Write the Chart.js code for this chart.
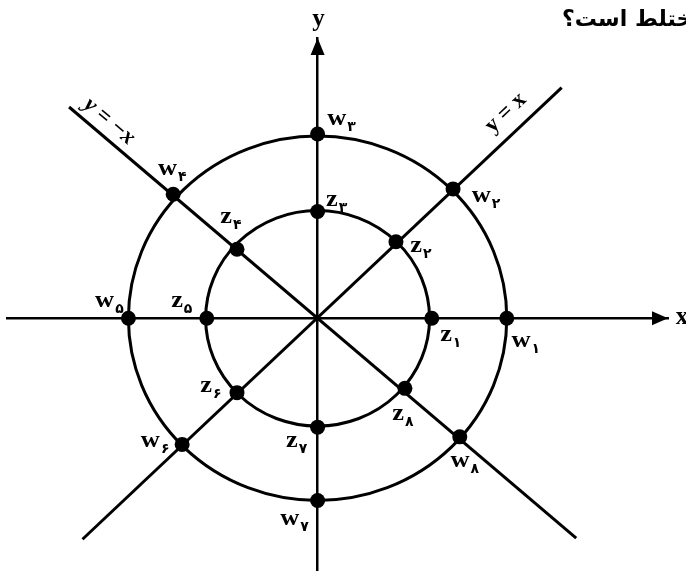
<!DOCTYPE html>
<html>
<head>
<meta charset="utf-8">
<script src="https://cdn.jsdelivr.net/npm/chart.js@4.4.0/dist/chart.umd.min.js"></script>
<style>
  body { margin: 0; background: #fff; }
  #wrap { width: 686px; height: 578px; }
</style>
</head>
<body>
<div id="wrap"><canvas id="chart" width="686" height="578"></canvas></div>
<script>
// points on the inner circle (z) and the outer circle (w)
const zLabels = ['z۱', 'z۲', 'z۳', 'z۴', 'z۵', 'z۶', 'z۷', 'z۸'];
const zX = [1.02, 0.70, 0, -0.72, -0.99, -0.72, 0, 0.78];
const zY = [0, 0.71, 0.99, 0.64, 0, -0.69, -1.01, -0.65];

const wLabels = ['w۱', 'w۲', 'w۳', 'w۴', 'w۵', 'w۶', 'w۷', 'w۸'];
const wX = [1.69, 1.21, 0, -1.29, -1.69, -1.21, 0, 1.27];
const wY = [0, 1.20, 1.71, 1.15, 0, -1.17, -1.69, -1.10];

const circleRadii = [1, 1.69];

// the two diagonal lines
const diagLabels = ['y = x', 'y = −x'];
const diagX = [[-2.10, 2.18], [-2.22, 2.31]];
const diagY = [[-2.05, 2.14], [1.96, -2.04]];

const axisLabels = ['x', 'y'];
const questionText = 'مختلط است؟';

// label centre offsets (px) from each point
const zOffsets = [[19, 19], [25, 6], [19, -10], [-6, -30], [-25, -15], [-26, -5], [-21, 16], [-2, 28]];
const wOffsets = [[19, 25], [33, 9], [24, -13], [-1, -23], [-19, -15], [-27, -1], [-23, 21], [5, 26]];

const toPoints = (xs, ys) => xs.map((x, i) => ({ x: x, y: ys[i] }));

function drawLabel(ctx, text, cx, cy) {
  const letter = text[0];
  const sub = text.slice(1);
  const letterFont = 'bold 24px "Liberation Serif"';
  const subFont = 'bold 14px "DejaVu Sans"';
  ctx.font = letterFont;
  const lw = ctx.measureText(letter).width * 1.1;
  ctx.font = subFont;
  const sw = ctx.measureText(sub).width;
  const left = cx - (lw + sw + 1) / 2;
  ctx.save();
  ctx.translate(left, cy + 4);
  ctx.scale(1.1, 1);
  ctx.font = letterFont;
  ctx.textAlign = 'left';
  ctx.textBaseline = 'alphabetic';
  ctx.fillText(letter, 0, 0);
  ctx.restore();
  ctx.font = subFont;
  ctx.textAlign = 'left';
  ctx.textBaseline = 'alphabetic';
  ctx.fillText(sub, left + lw + 1, cy + 10);
}

const circlesPlugin = {
  id: 'circles',
  beforeDatasetsDraw(chart) {
    const { ctx, scales: { x, y } } = chart;
    const cx = x.getPixelForValue(0);
    const cy = y.getPixelForValue(0);
    ctx.save();
    ctx.strokeStyle = '#000';
    ctx.lineWidth = 3;
    circleRadii.forEach((r) => {
      const rx = x.getPixelForValue(r) - cx;
      const ry = cy - y.getPixelForValue(r);
      ctx.beginPath();
      ctx.ellipse(cx, cy, rx, ry, 0, 0, Math.PI * 2);
      ctx.stroke();
    });
    ctx.restore();
  }
};

const annotatePlugin = {
  id: 'annotate',
  afterDraw(chart) {
    const { ctx, scales: { x, y } } = chart;
    const x0 = x.getPixelForValue(0);
    const y0 = y.getPixelForValue(0);
    ctx.save();
    ctx.fillStyle = '#000';

    // arrow heads
    ctx.beginPath();
    ctx.moveTo(x.right, y0);
    ctx.lineTo(x.right - 16, y0 - 7);
    ctx.lineTo(x.right - 16, y0 + 7);
    ctx.closePath();
    ctx.fill();
    ctx.beginPath();
    ctx.moveTo(x0, y.top);
    ctx.lineTo(x0 - 7, y.top + 17);
    ctx.lineTo(x0 + 7, y.top + 17);
    ctx.closePath();
    ctx.fill();

    // axis names
    ctx.font = 'bold 25px "Liberation Serif"';
    ctx.textAlign = 'center';
    ctx.textBaseline = 'middle';
    ctx.fillText(axisLabels[0], x.right + 14, y0 - 1);
    ctx.fillText(axisLabels[1], x0 + 1, y.top - 18);

    // point labels
    zLabels.forEach((t, i) => {
      drawLabel(ctx, t, x.getPixelForValue(zX[i]) + zOffsets[i][0], y.getPixelForValue(zY[i]) + zOffsets[i][1]);
    });
    wLabels.forEach((t, i) => {
      drawLabel(ctx, t, x.getPixelForValue(wX[i]) + wOffsets[i][0], y.getPixelForValue(wY[i]) + wOffsets[i][1]);
    });

    // diagonal line names, along the lines
    const diagPlace = [[1, 58, 20], [0, 40, 15]]; // [end index, distance from end, offset]
    diagLabels.forEach((t, i) => {
      const [endIdx, dist, off] = diagPlace[i];
      const ex = x.getPixelForValue(diagX[i][endIdx]);
      const ey = y.getPixelForValue(diagY[i][endIdx]);
      const ox = x.getPixelForValue(diagX[i][1 - endIdx]);
      const oy = y.getPixelForValue(diagY[i][1 - endIdx]);
      const len = Math.hypot(ox - ex, oy - ey);
      const ux = (ox - ex) / len;
      const uy = (oy - ey) / len;
      const angle = Math.atan2(diagY[i][1] > diagY[i][0] ? -(Math.abs(oy - ey)) : Math.abs(oy - ey), Math.abs(ox - ex));
      // normal pointing upward
      let nx = -uy, ny = ux;
      if (ny > 0) { nx = -nx; ny = -ny; }
      const cx = ex + ux * dist + nx * off;
      const cy = ey + uy * dist + ny * off;
      ctx.save();
      ctx.translate(cx, cy);
      ctx.rotate(angle);
      ctx.font = (i === 1 ? 'italic ' : '') + 'bold 23px "Liberation Serif"';
      ctx.textAlign = 'center';
      ctx.textBaseline = 'middle';
      ctx.fillText(t, 0, 0);
      ctx.restore();
    });

    // question text, cut at the right edge
    ctx.font = 'bold 22px "DejaVu Sans"';
    ctx.direction = 'rtl';
    ctx.textAlign = 'left';
    ctx.textBaseline = 'alphabetic';
    ctx.fillText(questionText, 562, 26);
    ctx.restore();
  }
};

const ctx = document.getElementById('chart').getContext('2d');
new Chart(ctx, {
  type: 'scatter',
  data: {
    datasets: [
      {
        label: 'z',
        data: toPoints(zX, zY),
        backgroundColor: '#000',
        borderWidth: 0,
        pointRadius: 7.5,
      },
      {
        label: 'w',
        data: toPoints(wX, wY),
        backgroundColor: '#000',
        borderWidth: 0,
        pointRadius: 7.5,
      },
      {
        label: diagLabels[0],
        data: toPoints(diagX[0], diagY[0]),
        showLine: true,
        borderColor: '#000',
        borderWidth: 3,
        pointRadius: 0,
      },
      {
        label: diagLabels[1],
        data: toPoints(diagX[1], diagY[1]),
        showLine: true,
        borderColor: '#000',
        borderWidth: 3,
        pointRadius: 0,
      },
    ],
  },
  options: {
    responsive: false,
    animation: false,
    layout: { padding: { left: 7, right: 18, top: 38, bottom: 2 } },
    plugins: { legend: { display: false }, tooltip: { enabled: false } },
    scales: {
      x: {
        type: 'linear',
        min: -2.77,
        max: 3.13,
        position: { y: 0 },
        grid: { display: false, drawTicks: false },
        ticks: { display: false },
        border: { display: true, color: '#000', width: 2.5 },
      },
      y: {
        type: 'linear',
        min: -2.34,
        max: 2.6,
        position: { x: 0 },
        grid: { display: false, drawTicks: false },
        ticks: { display: false },
        border: { display: true, color: '#000', width: 2.5 },
      },
    },
  },
  plugins: [circlesPlugin, annotatePlugin],
});
</script>
</body>
</html>
